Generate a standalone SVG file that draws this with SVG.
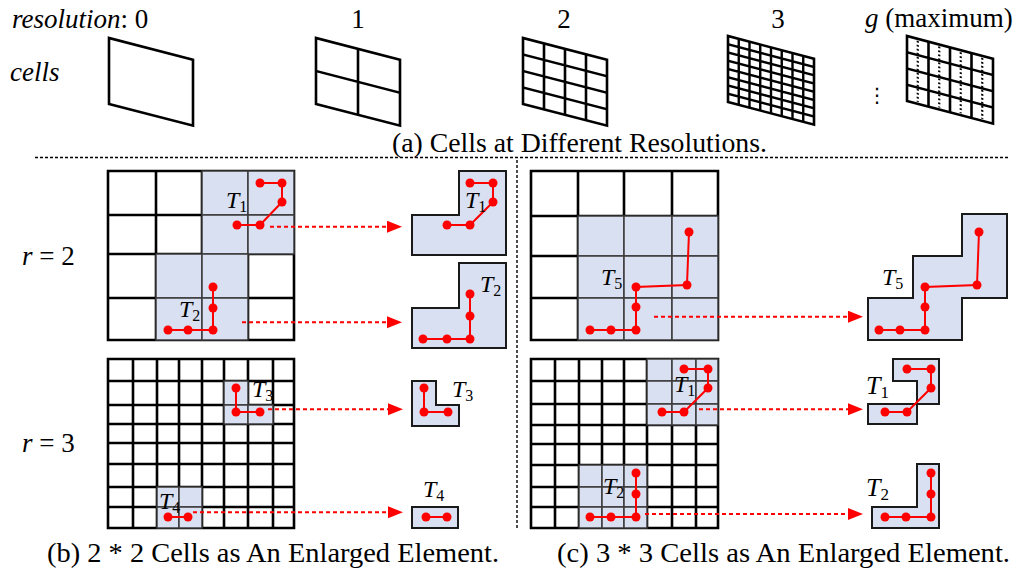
<svg xmlns="http://www.w3.org/2000/svg" width="1026" height="579" viewBox="0 0 1026 579">
<style>
text{font-family:"Liberation Serif","Times New Roman",serif;fill:#000}
.it{font-style:italic}
.lbl{font-size:27px}
.tl{font-size:24px;font-style:italic}
.sub{font-size:16px;font-style:normal}
.pg{fill:none;stroke:#000;stroke-width:2.6;stroke-linejoin:miter}
.pg3{fill:none;stroke:#000;stroke-width:2.4}
.dot{fill:none;stroke:#000;stroke-width:2.2;stroke-dasharray:1.8 2.2}
.grid{fill:none;stroke:#000;stroke-width:2.6;stroke-linecap:square}
.sh{fill:#d9e0f1;stroke:#3a3a3a;stroke-width:1.5}
.shape{fill:#d9e0f1;stroke:#1a1a1a;stroke-width:2}
.tr{fill:none;stroke:#f00;stroke-width:2}
.pt{fill:#f00}
.arr{fill:none;stroke:#f00;stroke-width:2;stroke-dasharray:4 3}
.sep{fill:none;stroke:#000;stroke-width:1.4;stroke-dasharray:3 2}
</style>
<defs>
<marker id="ah" markerUnits="userSpaceOnUse" markerWidth="16" markerHeight="13" refX="7" refY="6" orient="auto">
<path d="M0,0 L15,6 L0,12 Z" fill="#f00"/>
</marker>
</defs>
<rect width="1026" height="579" fill="#fff"/>

<g id="top-labels">
<text class="lbl" x="12" y="28"><tspan class="it">resolution</tspan>:  0</text>
<text class="lbl it" x="10" y="81">cells</text>
<text class="lbl" x="358" y="28" text-anchor="middle">1</text>
<text class="lbl" x="564" y="28" text-anchor="middle">2</text>
<text class="lbl" x="778" y="28" text-anchor="middle">3</text>
<text class="lbl" x="865" y="27"><tspan class="it">g</tspan> (maximum)</text>
<text x="877" y="102" text-anchor="middle" style="font-family:'DejaVu Sans',sans-serif;font-size:20px">⋮</text>
</g>

<g id="res0" transform="translate(109,38) skewY(14.5)">
<rect class="pg" x="0" y="0" width="84" height="66"/>
</g>
<g id="res1" transform="translate(316,38) skewY(14.5)">
<rect class="pg" x="0" y="0" width="84" height="66"/>
<path class="pg" d="M42,0 V66 M0,33 H84"/>
</g>
<g id="res2" transform="translate(523,38) skewY(14.5)">
<rect class="pg" x="0" y="0" width="84" height="66"/>
<path class="pg" d="M21,0 V66 M42,0 V66 M63,0 V66 M0,16.5 H84 M0,33 H84 M0,49.5 H84"/>
</g>
<g id="res3" transform="translate(728,36) skewY(14.8)">
<rect class="pg" x="0" y="0" width="86" height="66"/>
<path class="pg3" d="M10.75,0 V66 M21.5,0 V66 M32.25,0 V66 M43,0 V66 M53.75,0 V66 M64.5,0 V66 M75.25,0 V66 M0,8.25 H86 M0,16.5 H86 M0,24.75 H86 M0,33 H86 M0,41.25 H86 M0,49.5 H86 M0,57.75 H86"/>
</g>
<g id="resg" transform="translate(907,36) skewY(14.8)">
<rect class="pg" x="0" y="0" width="86" height="65"/>
<path class="pg" d="M21.5,0 V65 M43,0 V65 M64.5,0 V65 M0,16.25 H86 M0,32.5 H86 M0,48.75 H86"/>
<path class="dot" d="M10.75,2 V63 M32.25,2 V63 M53.75,2 V63 M75.25,2 V63"/>
</g>

<text class="lbl" x="392" y="152" textLength="375" lengthAdjust="spacingAndGlyphs">(a) Cells at Different Resolutions.</text>

<g id="separators">
<path class="sep" d="M35,157.5 H1009"/>
<path class="sep" d="M517,160 V530"/>
</g>

<text class="lbl" x="22" y="265"><tspan class="it">r</tspan> = 2</text>
<text class="lbl" x="22" y="452"><tspan class="it">r</tspan> = 3</text>

<!-- grid r=2 left -->
<g id="gridA">
<path class="grid" d="M108,171 V340 M156,171 V340 M202,171 V340 M248,171 V340 M294,171 V340 M108,171 H294 M108,215 H294 M108,254 H294 M108,298 H294 M108,340 H294"/>
<rect class="sh" x="202" y="171" width="46" height="44"/>
<rect class="sh" x="248" y="171" width="46" height="44"/>
<rect class="sh" x="202" y="215" width="46" height="39"/>
<rect class="sh" x="248" y="215" width="46" height="39"/>
<rect class="sh" x="156" y="254" width="46" height="44"/>
<rect class="sh" x="202" y="254" width="46" height="44"/>
<rect class="sh" x="156" y="298" width="46" height="42"/>
<rect class="sh" x="202" y="298" width="46" height="42"/>
</g>

<!-- grid r=2 right -->
<g id="gridB">
<path class="grid" d="M531,171 V340 M578,171 V340 M624,171 V340 M672,171 V340 M718,171 V340 M531,171 H718 M531,216 H718 M531,256 H718 M531,298 H718 M531,340 H718"/>
<rect class="sh" x="578" y="216" width="46" height="40"/>
<rect class="sh" x="624" y="216" width="48" height="40"/>
<rect class="sh" x="672" y="216" width="46" height="40"/>
<rect class="sh" x="578" y="256" width="46" height="42"/>
<rect class="sh" x="624" y="256" width="48" height="42"/>
<rect class="sh" x="672" y="256" width="46" height="42"/>
<rect class="sh" x="578" y="298" width="46" height="42"/>
<rect class="sh" x="624" y="298" width="48" height="42"/>
<rect class="sh" x="672" y="298" width="46" height="42"/>
</g>

<!-- grid r=3 left -->
<g id="gridC">
<path class="grid" d="M108,359 V528 M133,359 V528 M157,359 V528 M179,359 V528 M202,359 V528 M224,359 V528 M248,359 V528 M273,359 V528 M294,359 V528 M108,359 H294 M108,381 H294 M108,405 H294 M108,424 H294 M108,443 H294 M108,464 H294 M108,487 H294 M108,507 H294 M108,528 H294"/>
<rect class="sh" x="224" y="381" width="24" height="24"/>
<rect class="sh" x="224" y="405" width="24" height="19"/>
<rect class="sh" x="248" y="405" width="25" height="19"/>
<rect class="sh" x="157" y="487" width="22" height="20"/>
<rect class="sh" x="179" y="487" width="23" height="20"/>
<rect class="sh" x="157" y="507" width="22" height="21"/>
<rect class="sh" x="179" y="507" width="23" height="21"/>
</g>

<!-- grid r=3 right -->
<g id="gridD">
<path class="grid" d="M531,359 V528 M555,359 V528 M579,359 V528 M602,359 V528 M624,359 V528 M647,359 V528 M672,359 V528 M696,359 V528 M718,359 V528 M531,359 H718 M531,381 H718 M531,404 H718 M531,425 H718 M531,444 H718 M531,465 H718 M531,487 H718 M531,507 H718 M531,528 H718"/>
<rect class="sh" x="647" y="359" width="25" height="22"/>
<rect class="sh" x="672" y="359" width="24" height="22"/>
<rect class="sh" x="696" y="359" width="22" height="22"/>
<rect class="sh" x="647" y="381" width="25" height="23"/>
<rect class="sh" x="672" y="381" width="24" height="23"/>
<rect class="sh" x="696" y="381" width="22" height="23"/>
<rect class="sh" x="647" y="404" width="25" height="21"/>
<rect class="sh" x="672" y="404" width="24" height="21"/>
<rect class="sh" x="696" y="404" width="22" height="21"/>
<rect class="sh" x="579" y="465" width="23" height="22"/>
<rect class="sh" x="602" y="465" width="22" height="22"/>
<rect class="sh" x="624" y="465" width="23" height="22"/>
<rect class="sh" x="579" y="487" width="23" height="20"/>
<rect class="sh" x="602" y="487" width="22" height="20"/>
<rect class="sh" x="624" y="487" width="23" height="20"/>
<rect class="sh" x="579" y="507" width="23" height="21"/>
<rect class="sh" x="602" y="507" width="22" height="21"/>
<rect class="sh" x="624" y="507" width="23" height="21"/>
</g>

<!-- enlarged shapes -->
<g id="shapeT1a"><path class="shape" d="M459,171 H506 V255 H412 V215 H459 Z"/></g>
<g id="shapeT2a"><path class="shape" d="M459,263 H506 V348 H412 V308 H459 Z"/></g>
<g id="shapeT5"><path class="shape" d="M962,214 H1007 V298 H962 V340 H868 V298 H913 V256 H962 Z"/></g>
<g id="shapeT3"><path class="shape" d="M412,381 H436 V405 H459 V426 H412 Z"/></g>
<g id="shapeT4"><rect class="shape" x="412" y="507" width="46" height="21"/></g>
<g id="shapeT1b"><path class="shape" d="M893,359 H939 V404 H917 V424 H868 V404 H917 V381 H893 Z"/></g>
<g id="shapeT2b"><path class="shape" d="M917,464 H939 V528 H872 V507 H917 Z"/></g>

<!-- trajectories -->
<g id="trajectories">
<polyline class="tr" points="260,183 282,183 282,202 260,225 237,225"/>
<polyline class="tr" points="470,183 493,183 493,202 470,225 447,225"/>
<polyline class="tr" points="213,287 213,308 213,330 188,330 168,330"/>
<polyline class="tr" points="470,294 470,316 470,339 447,339 423,339"/>
<polyline class="tr" points="689,232 687,285 636,287 636,307 636,330 611,330 590,330"/>
<polyline class="tr" points="979,232 977,285 925,287 925,307 925,330 900,330 879,330"/>
<polyline class="tr" points="236,388 236,412 260,412"/>
<polyline class="tr" points="424,388 424,412 448,412"/>
<polyline class="tr" points="168,517 188,517"/>
<polyline class="tr" points="426,517 447,517"/>
<polyline class="tr" points="684,369 708,369 708,388 684,412 662,412"/>
<polyline class="tr" points="907,369 931,369 931,388 907,412 885,412"/>
<polyline class="tr" points="636,473 636,494 636,517 611,517 590,517"/>
<polyline class="tr" points="931,473 931,494 931,517 906,517 885,517"/>
</g>
<g id="points">
<circle class="pt" cx="260" cy="183" r="4.5"/><circle class="pt" cx="282" cy="183" r="4.5"/><circle class="pt" cx="282" cy="202" r="4.5"/><circle class="pt" cx="260" cy="225" r="4.5"/><circle class="pt" cx="237" cy="225" r="4.5"/>
<circle class="pt" cx="470" cy="183" r="4.5"/><circle class="pt" cx="493" cy="183" r="4.5"/><circle class="pt" cx="493" cy="202" r="4.5"/><circle class="pt" cx="470" cy="225" r="4.5"/><circle class="pt" cx="447" cy="225" r="4.5"/>
<circle class="pt" cx="213" cy="287" r="4.5"/><circle class="pt" cx="213" cy="308" r="4.5"/><circle class="pt" cx="213" cy="330" r="4.5"/><circle class="pt" cx="188" cy="330" r="4.5"/><circle class="pt" cx="168" cy="330" r="4.5"/>
<circle class="pt" cx="470" cy="294" r="4.5"/><circle class="pt" cx="470" cy="316" r="4.5"/><circle class="pt" cx="470" cy="339" r="4.5"/><circle class="pt" cx="447" cy="339" r="4.5"/><circle class="pt" cx="423" cy="339" r="4.5"/>
<circle class="pt" cx="689" cy="232" r="4.5"/><circle class="pt" cx="687" cy="285" r="4.5"/><circle class="pt" cx="636" cy="287" r="4.5"/><circle class="pt" cx="636" cy="307" r="4.5"/><circle class="pt" cx="636" cy="330" r="4.5"/><circle class="pt" cx="611" cy="330" r="4.5"/><circle class="pt" cx="590" cy="330" r="4.5"/>
<circle class="pt" cx="979" cy="232" r="4.5"/><circle class="pt" cx="977" cy="285" r="4.5"/><circle class="pt" cx="925" cy="287" r="4.5"/><circle class="pt" cx="925" cy="307" r="4.5"/><circle class="pt" cx="925" cy="330" r="4.5"/><circle class="pt" cx="900" cy="330" r="4.5"/><circle class="pt" cx="879" cy="330" r="4.5"/>
<circle class="pt" cx="236" cy="388" r="4.5"/><circle class="pt" cx="236" cy="412" r="4.5"/><circle class="pt" cx="260" cy="412" r="4.5"/>
<circle class="pt" cx="424" cy="388" r="4.5"/><circle class="pt" cx="424" cy="412" r="4.5"/><circle class="pt" cx="448" cy="412" r="4.5"/>
<circle class="pt" cx="168" cy="517" r="4.5"/><circle class="pt" cx="188" cy="517" r="4.5"/>
<circle class="pt" cx="426" cy="517" r="4.5"/><circle class="pt" cx="447" cy="517" r="4.5"/>
<circle class="pt" cx="684" cy="369" r="4.5"/><circle class="pt" cx="708" cy="369" r="4.5"/><circle class="pt" cx="708" cy="388" r="4.5"/><circle class="pt" cx="684" cy="412" r="4.5"/><circle class="pt" cx="662" cy="412" r="4.5"/>
<circle class="pt" cx="907" cy="369" r="4.5"/><circle class="pt" cx="931" cy="369" r="4.5"/><circle class="pt" cx="931" cy="388" r="4.5"/><circle class="pt" cx="907" cy="412" r="4.5"/><circle class="pt" cx="885" cy="412" r="4.5"/>
<circle class="pt" cx="636" cy="473" r="4.5"/><circle class="pt" cx="636" cy="494" r="4.5"/><circle class="pt" cx="636" cy="517" r="4.5"/><circle class="pt" cx="611" cy="517" r="4.5"/><circle class="pt" cx="590" cy="517" r="4.5"/>
<circle class="pt" cx="931" cy="473" r="4.5"/><circle class="pt" cx="931" cy="494" r="4.5"/><circle class="pt" cx="931" cy="517" r="4.5"/><circle class="pt" cx="906" cy="517" r="4.5"/><circle class="pt" cx="885" cy="517" r="4.5"/>
</g>

<!-- labels -->
<g id="tlabels">
<text class="tl" x="226" y="208">T<tspan class="sub" dy="4">1</tspan></text>
<text class="tl" x="465" y="208">T<tspan class="sub" dy="4">1</tspan></text>
<text class="tl" x="179" y="317">T<tspan class="sub" dy="4">2</tspan></text>
<text class="tl" x="480" y="292">T<tspan class="sub" dy="4">2</tspan></text>
<text class="tl" x="601" y="285">T<tspan class="sub" dy="4">5</tspan></text>
<text class="tl" x="882" y="285">T<tspan class="sub" dy="4">5</tspan></text>
<text class="tl" x="252" y="397">T<tspan class="sub" dy="4">3</tspan></text>
<text class="tl" x="452" y="397">T<tspan class="sub" dy="4">3</tspan></text>
<text class="tl" x="159" y="509">T<tspan class="sub" dy="4">4</tspan></text>
<text class="tl" x="423" y="497">T<tspan class="sub" dy="4">4</tspan></text>
<text class="tl" x="674" y="392">T<tspan class="sub" dy="4">1</tspan></text>
<text class="tl" x="866" y="394" style="font-size:26px">T<tspan class="sub" dy="4" style="font-size:17px">1</tspan></text>
<text class="tl" x="603" y="494">T<tspan class="sub" dy="4">2</tspan></text>
<text class="tl" x="866" y="496" style="font-size:26px">T<tspan class="sub" dy="4" style="font-size:17px">2</tspan></text>
</g>

<!-- connectors -->
<g id="connectors">
<path class="arr" d="M270,226.7 H394" marker-end="url(#ah)"/>
<path class="arr" d="M242,322.3 H394" marker-end="url(#ah)"/>
<path class="arr" d="M654,316.7 H855" marker-end="url(#ah)"/>
<path class="arr" d="M268,409.3 H395" marker-end="url(#ah)"/>
<path class="arr" d="M193,512.3 H395" marker-end="url(#ah)"/>
<path class="arr" d="M699,409.3 H855" marker-end="url(#ah)"/>
<path class="arr" d="M645,514 H855" marker-end="url(#ah)"/>
</g>

<text class="lbl" x="47" y="562" textLength="452" lengthAdjust="spacingAndGlyphs">(b) 2 * 2 Cells as An Enlarged Element.</text>
<text class="lbl" x="557" y="562" textLength="453" lengthAdjust="spacingAndGlyphs">(c) 3 * 3 Cells as An Enlarged Element.</text>
</svg>
